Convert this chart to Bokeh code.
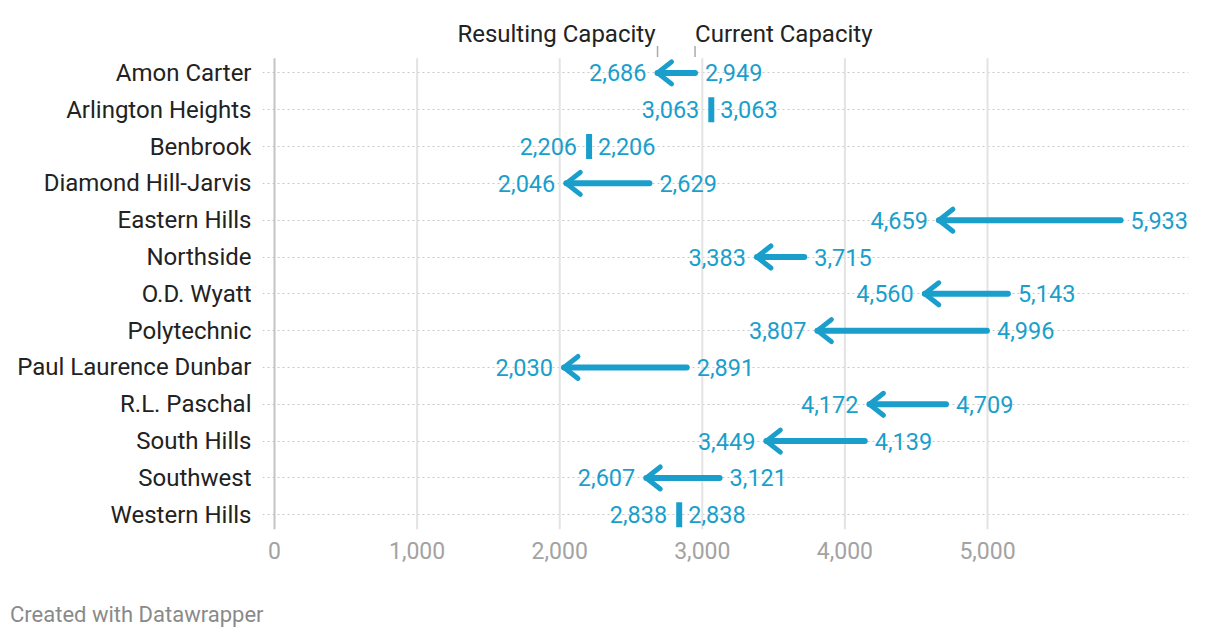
import numpy as np
from bokeh.plotting import figure
from bokeh.models import Range1d, FixedTicker, Div
from bokeh.layouts import column
from bokeh.core.properties import value
from bokeh.embed import file_html
from bokeh.resources import INLINE

schools = ["Amon Carter", "Arlington Heights", "Benbrook", "Diamond Hill-Jarvis",
           "Eastern Hills", "Northside", "O.D. Wyatt", "Polytechnic",
           "Paul Laurence Dunbar", "R.L. Paschal", "South Hills", "Southwest",
           "Western Hills"]
current = [2949, 3063, 2206, 2629, 5933, 3715, 5143, 4996, 2891, 4709, 4139, 3121, 2838]
resulting = [2686, 3063, 2206, 2046, 4659, 3383, 4560, 3807, 2030, 4172, 3449, 2607, 2838]
x_ticks = [0, 1000, 2000, 3000, 4000, 5000]
x_tick_labels = ["0", "1,000", "2,000", "3,000", "4,000", "5,000"]
header_labels = ["Resulting Capacity", "Current Capacity"]
footer_text = "Created with Datawrapper"

BLUE = "#1a9fcc"
FONT = value("Roboto")
LBL = value("23.5px")

PX_PER_UNIT = 0.1426  # screen px per data unit on x
PX_PER_ROW = 36.82
n = len(schools)
y = np.arange(n, dtype=float)
cur = np.array(current, dtype=float)
res = np.array(resulting, dtype=float)
moved = cur != res
same = ~moved

p = figure(width=1204, height=580, output_backend="svg", toolbar_location=None,
           x_range=Range1d(-84.2, 6409.5), y_range=Range1d(12.4, -1.45),
           min_border_left=262, min_border_right=16, min_border_top=19,
           min_border_bottom=51)
p.outline_line_color = None
p.background_fill_color = "white"
p.border_fill_color = "white"

# grids
p.xgrid.visible = False
p.ygrid.ticker = FixedTicker(ticks=list(range(n)))
p.ygrid.grid_line_color = "#c8c8c8"
p.ygrid.grid_line_dash = "2 3"
p.ygrid.grid_line_width = 1

xt = np.array(x_ticks[1:], dtype=float)
p.segment(x0=xt, x1=xt, y0=np.full(len(xt), -0.4), y1=np.full(len(xt), n - 0.6),
          line_color="#e3e3e3", line_width=2)
p.segment(x0=[x_ticks[0]], x1=[x_ticks[0]], y0=[-0.4], y1=[n - 0.6],
          line_color="#c4c4c4", line_width=2)

# axes
p.xaxis.ticker = FixedTicker(ticks=x_ticks)
p.xaxis.major_label_overrides = {t: l for t, l in zip(x_ticks, x_tick_labels)}
p.xaxis.axis_line_color = None
p.xaxis.major_tick_line_color = None
p.xaxis.minor_tick_line_color = None
p.xaxis.major_tick_out = 0
p.xaxis.major_label_standoff = 12
p.xaxis.major_label_text_font = "Roboto"
p.xaxis.major_label_text_font_size = "23px"
p.xaxis.major_label_text_color = "#a3a3a3"

p.yaxis.ticker = FixedTicker(ticks=list(range(n)))
p.yaxis.major_label_overrides = {i: s for i, s in enumerate(schools)}
p.yaxis.axis_line_color = None
p.yaxis.major_tick_line_color = None
p.yaxis.minor_tick_line_color = None
p.yaxis.major_tick_out = 0
p.yaxis.major_label_standoff = 11
p.yaxis.major_label_text_font = "Roboto"
p.yaxis.major_label_text_font_size = "24px"
p.yaxis.major_label_text_color = "#222222"

# arrows: shaft
p.segment(x0=cur[moved], x1=res[moved], y0=y[moved], y1=y[moved],
          line_color=BLUE, line_width=6, line_cap="round")
# arrow heads (chevrons), size in screen px converted to data units
head_dx = 14 / PX_PER_UNIT
head_dy = 11 / PX_PER_ROW
xs = [[r + head_dx, r, r + head_dx] for r in res[moved]]
ys = [[yy - head_dy, yy, yy + head_dy] for yy in y[moved]]
p.multi_line(xs=xs, ys=ys, line_color=BLUE, line_width=5,
             line_cap="round", line_join="round")
# unchanged: small bar
p.rect(x=res[same], y=y[same], width=6, width_units="screen", height=0.68,
       fill_color=BLUE, line_color=None)

fmt = lambda v: f"{int(v):,}"
# value labels
p.text(x=res[moved], y=y[moved], text=[fmt(v) for v in res[moved]],
       text_align="right", text_baseline="middle", x_offset=-11,
       text_font=FONT, text_font_size=LBL, text_color=BLUE)
p.text(x=cur[moved], y=y[moved], text=[fmt(v) for v in cur[moved]],
       text_align="left", text_baseline="middle", x_offset=10,
       text_font=FONT, text_font_size=LBL, text_color=BLUE)
p.text(x=res[same], y=y[same], text=[fmt(v) for v in res[same]],
       text_align="right", text_baseline="middle", x_offset=-12,
       text_font=FONT, text_font_size=LBL, text_color=BLUE)
p.text(x=cur[same], y=y[same], text=[fmt(v) for v in cur[same]],
       text_align="left", text_baseline="middle", x_offset=9,
       text_font=FONT, text_font_size=LBL, text_color=BLUE)

# header labels above first row
p.text(x=[res[0]], y=[-1.06], text=[header_labels[0]], text_align="right",
       text_baseline="middle", x_offset=-2, text_font=FONT,
       text_font_size=value("24px"), text_color="#222222")
p.text(x=[cur[0]], y=[-1.06], text=[header_labels[1]], text_align="left",
       text_baseline="middle", x_offset=0, text_font=FONT,
       text_font_size=value("24px"), text_color="#222222")
p.segment(x0=[res[0], cur[0]], x1=[res[0], cur[0]], y0=[-0.73, -0.73],
          y1=[-0.43, -0.43], line_color="#aaaaaa", line_width=1.5)

footer = Div(text=footer_text, width=1204, height=50, margin=0,
             styles={"font-family": "Roboto", "font-size": "22px",
                     "color": "#8a8a8a", "padding-left": "10px",
                     "padding-top": "22px", "line-height": "26px"})

layout = column(p, footer, spacing=0)
open("out.html", "w").write(file_html(layout, INLINE))
